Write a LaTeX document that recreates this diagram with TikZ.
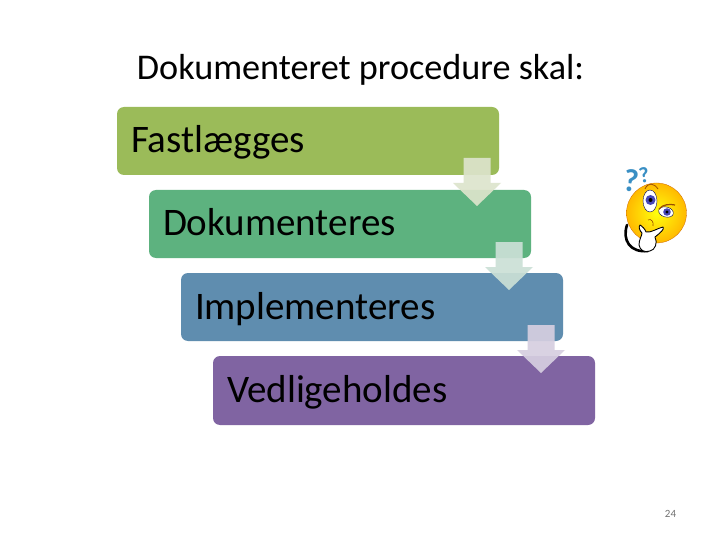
\documentclass[tikz,border=0pt]{standalone}
\usepackage{fontspec}
\usepackage{xcolor}
\setmainfont{Carlito}

\definecolor{stepgreen}{HTML}{9BBB59}
\definecolor{stepteal}{HTML}{5DB27F}
\definecolor{stepblue}{HTML}{5F8DAF}
\definecolor{steppurple}{HTML}{8064A2}
\definecolor{arrowgreen}{HTML}{DDE4CC}
\definecolor{arrowteal}{HTML}{CBE0D6}
\definecolor{arrowpurple}{HTML}{D6CFE0}
\definecolor{qblue}{HTML}{3A8FC4}

\tikzset{
    stepbox/.style={rounded corners=7pt, minimum width=382pt, minimum height=68pt, text width=354pt, text height=32pt, text depth=8pt, inner xsep=14pt, inner ysep=0pt, align=left, font=\fontsize{39}{44}\selectfont},
    downarrow/.style={fill opacity=0.92}
}

\begin{document}
\begin{tikzpicture}[x=1pt, y=-1pt]
            \useasboundingbox[fill=white] (0,0) rectangle (720,540);
            \node[font=\fontsize{36.2}{40}\selectfont] (title) at (360.5,70) {Dokumenteret procedure skal:};
            \node[stepbox, fill=stepgreen] (fast) at (308,141) {Fastlægges};
            \node[stepbox, fill=stepteal] (dok) at (340,224) {Dokumenteres};
            \node[stepbox, fill=stepblue] (impl) at (372,307) {Implementeres};
            \node[stepbox, fill=steppurple, minimum height=69pt] (vedl) at (404,390.5) {Vedligeholdes};
            \coordinate (a1) at (477,158);
            \coordinate (a2) at (509,242);
            \coordinate (a3) at (541,325);
            \fill[downarrow, arrowgreen] (a1) ++(-13.5,0) -- ++(27,0) -- ++(0,25) -- ++(10.5,0) -- ++(-24,23) -- ++(-24,-23) -- ++(10.5,0) -- cycle;
            \fill[downarrow, arrowteal] (a2) ++(-13.5,0) -- ++(27,0) -- ++(0,25) -- ++(10.5,0) -- ++(-24,23) -- ++(-24,-23) -- ++(10.5,0) -- cycle;
            \fill[downarrow, arrowpurple] (a3) ++(-13.5,0) -- ++(27,0) -- ++(0,25) -- ++(10.5,0) -- ++(-24,23) -- ++(-24,-23) -- ++(10.5,0) -- cycle;
            % question marks
            \node[text=qblue, font=\fontsize{32}{32}\bfseries\selectfont, rotate=-8] (q1) at (631,181) {?};
            \node[text=qblue, font=\fontsize{22}{22}\bfseries\selectfont, rotate=10] (q2) at (644,175) {?};
            % arm
            \draw[line width=2.6pt, line cap=round] (627,225) .. controls (622,240) and (630,253) .. (648,251);
            % face
            \shade[inner color=yellow!95!white, outer color=orange!55!yellow, draw=orange!80!black, line width=0.3pt] (656.5,213) circle (30);
            % eyes
            \draw[fill=white, draw=blue!30!black, line width=0.4pt] (650,201) ellipse (7 and 11);
            \fill[blue!45!gray] (650.5,200) circle (5);
            \fill[black] (650.5,200) circle (2);
            \draw[fill=white, draw=blue!30!black, line width=0.4pt, rotate around={-15:(666,212)}] (666,212) ellipse (7.5 and 5);
            \fill[blue!45!gray] (667,212) circle (3.8);
            \fill[black] (667,212) circle (1.7);
            % brows and mouth
            \draw[orange!60!black, line width=0.8pt] (645,189) .. controls (648,182) and (654,183) .. (658,189);
            \draw[orange!60!black, line width=1.2pt] (659,209) .. controls (663,204) and (670,204) .. (675,205);
            \draw[orange!60!black, line width=0.6pt] (648,220) .. controls (651,218) and (654,222) .. (653,226);
            % hand
            \draw[fill=white, line width=0.9pt, line join=round] (640,225) .. controls (642,226) and (645,229) .. (646,232) .. controls (651,233) and (658,228) .. (663,227) .. controls (665,229) and (660,233) .. (655,237) .. controls (658,243) and (655,250) .. (650,251) .. controls (644,253) and (640,250) .. (639,245) .. controls (639,239) and (642,236) .. (642,233) .. controls (640,231) and (638,227) .. (640,225) -- cycle;
            \node[text=black!55, font=\fontsize{11}{13}\selectfont] (page) at (670.5,514) {24};
        \end{tikzpicture}
\end{document}
